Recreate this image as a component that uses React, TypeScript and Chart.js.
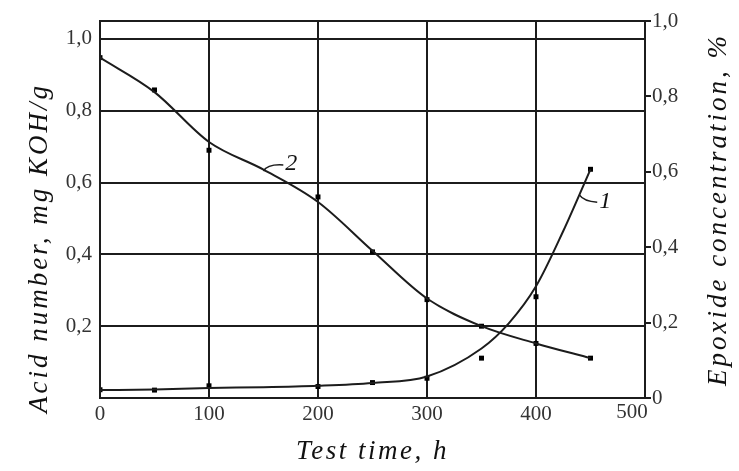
import React, { useEffect, useRef } from "react";
import { Chart, registerables } from "chart.js";

Chart.register(...registerables);

// Test time, h
const MARKER_X = [0, 50, 100, 200, 250, 300, 350, 400, 450];
// Curve 1 measured points
const CURVE1_POINTS = [0.023, 0.022, 0.034, 0.032, 0.043, 0.055, 0.111, 0.282, 0.637];
// Curve 2 measured points
const CURVE2_POINTS = [0.948, 0.858, 0.69, 0.56, 0.407, 0.274, 0.2, 0.152, 0.111];

// Smoothed curves (as drawn)
const CURVE1_FIT_X = [0, 50, 100, 150, 200, 250, 300, 350, 375, 400, 425, 450];
const CURVE1_FIT_Y = [0.022, 0.024, 0.028, 0.03, 0.034, 0.042, 0.06, 0.138, 0.208, 0.311, 0.465, 0.637];
const CURVE2_FIT_X = [0, 50, 100, 150, 200, 250, 300, 350, 400, 450];
const CURVE2_FIT_Y = [0.948, 0.852, 0.713, 0.636, 0.546, 0.41, 0.277, 0.2, 0.152, 0.111];

const X_TICKS = [0, 100, 200, 300, 400, 500];
const LEFT_TICKS = [0, 0.2, 0.4, 0.6, 0.8, 1.0];
const RIGHT_TICKS = [0, 0.2, 0.4, 0.6, 0.8, 1.0];

const X_TITLE = "Test time, h";
const LEFT_TITLE = "Acid number, mg KOH/g";
const RIGHT_TITLE = "Epoxide concentration, %";

// Curve labels: [label, anchor x, anchor y (on curve), label x, label y]
const CURVE_LABELS: [string, number, number, number, number][] = [
  ["2", 150, 0.632, 170, 0.652],
  ["1", 440, 0.565, 458, 0.548],
];

const INK = "#1c1c1c";
const SERIF = "'Liberation Serif', 'Times New Roman', Tinos, serif";

const fmt = (v: number) => (v === 0 ? "0" : v.toFixed(1).replace(".", ","));

const overlayPlugin = {
  id: "overlay",
  afterDraw(chart: any) {
    const { ctx, chartArea, scales } = chart;
    ctx.save();
    // frame
    ctx.strokeStyle = INK;
    ctx.lineWidth = 2;
    ctx.strokeRect(chartArea.left, chartArea.top, chartArea.right - chartArea.left, chartArea.bottom - chartArea.top);

    // last x tick label, set a little inside the frame as in the original
    ctx.font = `21px ${SERIF}`;
    ctx.fillStyle = "#333";
    ctx.textAlign = "center";
    ctx.textBaseline = "top";
    const lastX = X_TICKS[X_TICKS.length - 1];
    ctx.fillText(String(lastX), scales.x.getPixelForValue(lastX) - 13, chartArea.bottom + 4);

    // curve labels with leaders
    ctx.font = `italic 24px ${SERIF}`;
    ctx.fillStyle = "#111";
    ctx.textBaseline = "middle";
    ctx.textAlign = "left";
    ctx.lineWidth = 1.5;
    for (const [t, ax, ay, lx, ly] of CURVE_LABELS) {
      const x0 = scales.x.getPixelForValue(ax);
      const y0 = scales.y.getPixelForValue(ay);
      const x1 = scales.x.getPixelForValue(lx);
      const y1 = scales.y.getPixelForValue(ly);
      ctx.beginPath();
      ctx.moveTo(x0, y0);
      ctx.quadraticCurveTo(x0 + 4, y1, x1 - 2, y1 + 1);
      ctx.stroke();
      ctx.fillText(t, x1, y1);
    }

    // axis titles
    ctx.fillStyle = "#111";
    ctx.font = `italic 27px ${SERIF}`;
    (ctx as any).letterSpacing = "2.5px";
    ctx.textAlign = "center";
    ctx.textBaseline = "alphabetic";
    ctx.fillText(X_TITLE, (chartArea.left + chartArea.right) / 2, 459);

    (ctx as any).letterSpacing = "3px";
    ctx.textBaseline = "middle";
    ctx.save();
    ctx.translate(40, 248);
    ctx.rotate(-Math.PI / 2);
    ctx.fillText(LEFT_TITLE, 0, 0);
    ctx.restore();

    ctx.save();
    ctx.translate(719, (chartArea.top + chartArea.bottom) / 2);
    ctx.rotate(-Math.PI / 2);
    ctx.fillText(RIGHT_TITLE, 0, 0);
    ctx.restore();

    ctx.restore();
  },
};

export default function App() {
  const ref = useRef<HTMLCanvasElement>(null);

  useEffect(() => {
    if (!ref.current) return;
    let chart: any = null;
    let cancelled = false;
    const build = () => {
      if (cancelled || !ref.current) return;
      const toXY = (xs: number[], ys: number[]) => xs.map((x, i) => ({ x, y: ys[i] }));
      const tickFont = { family: SERIF, size: 21 };
      chart = new Chart(ref.current, {
        type: "line",
        data: {
          datasets: [
            {
              label: "1 fit",
              data: toXY(CURVE1_FIT_X, CURVE1_FIT_Y),
              borderColor: INK,
              borderWidth: 2,
              pointRadius: 0,
              cubicInterpolationMode: "monotone",
              yAxisID: "y",
            },
            {
              label: "2 fit",
              data: toXY(CURVE2_FIT_X, CURVE2_FIT_Y),
              borderColor: INK,
              borderWidth: 2,
              pointRadius: 0,
              cubicInterpolationMode: "monotone",
              yAxisID: "y",
            },
            {
              label: "1",
              data: toXY(MARKER_X, CURVE1_POINTS),
              showLine: false,
              pointStyle: "rect",
              pointRadius: 3.5,
              backgroundColor: "#000",
              borderColor: "#000",
              borderWidth: 0,
              yAxisID: "y",
            },
            {
              label: "2",
              data: toXY(MARKER_X, CURVE2_POINTS),
              showLine: false,
              pointStyle: "rect",
              pointRadius: 3.5,
              backgroundColor: "#000",
              borderColor: "#000",
              borderWidth: 0,
              yAxisID: "y",
            },
          ],
        },
        options: {
          animation: false,
          responsive: false,
          layout: { padding: { top: 21, left: 0, right: 0, bottom: 0 } },
          plugins: { legend: { display: false }, tooltip: { enabled: false }, title: { display: false } },
          scales: {
            x: {
              type: "linear",
              min: 0,
              max: 500,
              afterBuildTicks: (s: any) => {
                s.ticks = X_TICKS.map((v) => ({ value: v }));
              },
              afterFit: (s: any) => {
                s.height = 73;
              },
              ticks: {
                font: tickFont,
                color: "#333",
                padding: 4,
                maxRotation: 0,
                callback: (v: any) => (Number(v) === X_TICKS[X_TICKS.length - 1] ? "" : String(v)),
              },
              grid: { color: INK, lineWidth: 2, drawTicks: false },
              border: { display: true, color: INK, width: 2 },
            },
            y: {
              type: "linear",
              position: "left",
              min: 0,
              max: 1.05,
              afterBuildTicks: (s: any) => {
                s.ticks = LEFT_TICKS.map((v) => ({ value: v }));
              },
              afterFit: (s: any) => {
                s.width = 100;
              },
              ticks: {
                font: tickFont,
                color: "#333",
                padding: 8,
                callback: (v: any) => (v === 0 ? "" : fmt(Number(v))),
              },
              grid: { color: INK, lineWidth: 2, drawTicks: false },
              border: { display: true, color: INK, width: 2 },
            },
            y2: {
              type: "linear",
              position: "right",
              min: 0,
              max: 1.0,
              afterBuildTicks: (s: any) => {
                s.ticks = RIGHT_TICKS.map((v) => ({ value: v }));
              },
              afterFit: (s: any) => {
                s.width = 94;
              },
              ticks: { font: tickFont, color: "#333", padding: 1, callback: (v: any) => fmt(Number(v)) },
              grid: { drawOnChartArea: false, drawTicks: true, tickLength: 6, color: INK, lineWidth: 2 },
              border: { display: true, color: INK, width: 2 },
            },
          },
        },
        plugins: [overlayPlugin],
      } as any);
    };
    const fonts: any = (document as any).fonts;
    if (fonts && fonts.load) {
      Promise.all([
        fonts.load(`21px 'Liberation Serif'`),
        fonts.load(`italic 27px 'Liberation Serif'`),
      ])
        .catch(() => null)
        .then(build);
    } else {
      build();
    }
    return () => {
      cancelled = true;
      if (chart) chart.destroy();
    };
  }, []);

  return (
    <div style={{ position: "absolute", left: 0, top: 0, width: 739, height: 471, background: "#fff" }}>
      <canvas ref={ref} width={739} height={471} style={{ display: "block" }} />
    </div>
  );
}
